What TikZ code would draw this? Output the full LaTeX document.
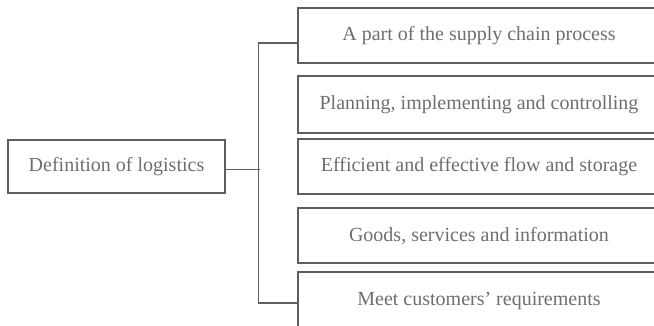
\documentclass[tikz,border=0pt]{standalone}
\usepackage{fontspec}
\setmainfont{Liberation Serif}
\usetikzlibrary{positioning}
\definecolor{framegray}{HTML}{5E5E5E}
\definecolor{labelgray}{HTML}{6E6E6E}

\begin{document}
\begin{tikzpicture}[x=1pt,y=-1pt,
    box/.style={draw=framegray,line width=1.1pt,text=labelgray,inner sep=0,font=\fontsize{20pt}{24pt}\selectfont},
    link/.style={draw=framegray,line width=1.1pt}]
    \pgfmathsetmacro{\itemwidth}{362}
    \pgfmathsetmacro{\itemx}{479}
    \pgfmathsetmacro{\busgap}{39}
    \useasboundingbox (0,0) rectangle (654,326);
    \clip (0,0) rectangle (654,326);
    \node[box,minimum width=217pt,minimum height=53pt] (def) at (116.5,166.5) {Definition of logistics};
    \node[box,minimum width=\itemwidth pt,minimum height=55pt] (part) at (\itemx,35.5) {A part of the supply chain process};
    \node[box,minimum width=\itemwidth pt,minimum height=57pt] (plan) at (\itemx,104.5) {Planning, implementing and controlling};
    \node[box,minimum width=\itemwidth pt,minimum height=55pt] (flow) at (\itemx,166.5) {Efficient and effective flow and storage};
    \node[box,minimum width=\itemwidth pt,minimum height=55pt] (goods) at (\itemx,235.5) {Goods, services and information};
    \node[box,minimum width=\itemwidth pt,minimum height=58pt] (meet) at (\itemx,301) {Meet customers' requirements};
    % bracket from the definition to the items
    \draw[link] ([yshift=-7.5pt]part.west) -- ++(-\busgap,0) |- ([yshift=-2pt]meet.west);
    \draw[link] ([yshift=-3pt]def.east) -- ++(34,0);
\end{tikzpicture}
\end{document}
